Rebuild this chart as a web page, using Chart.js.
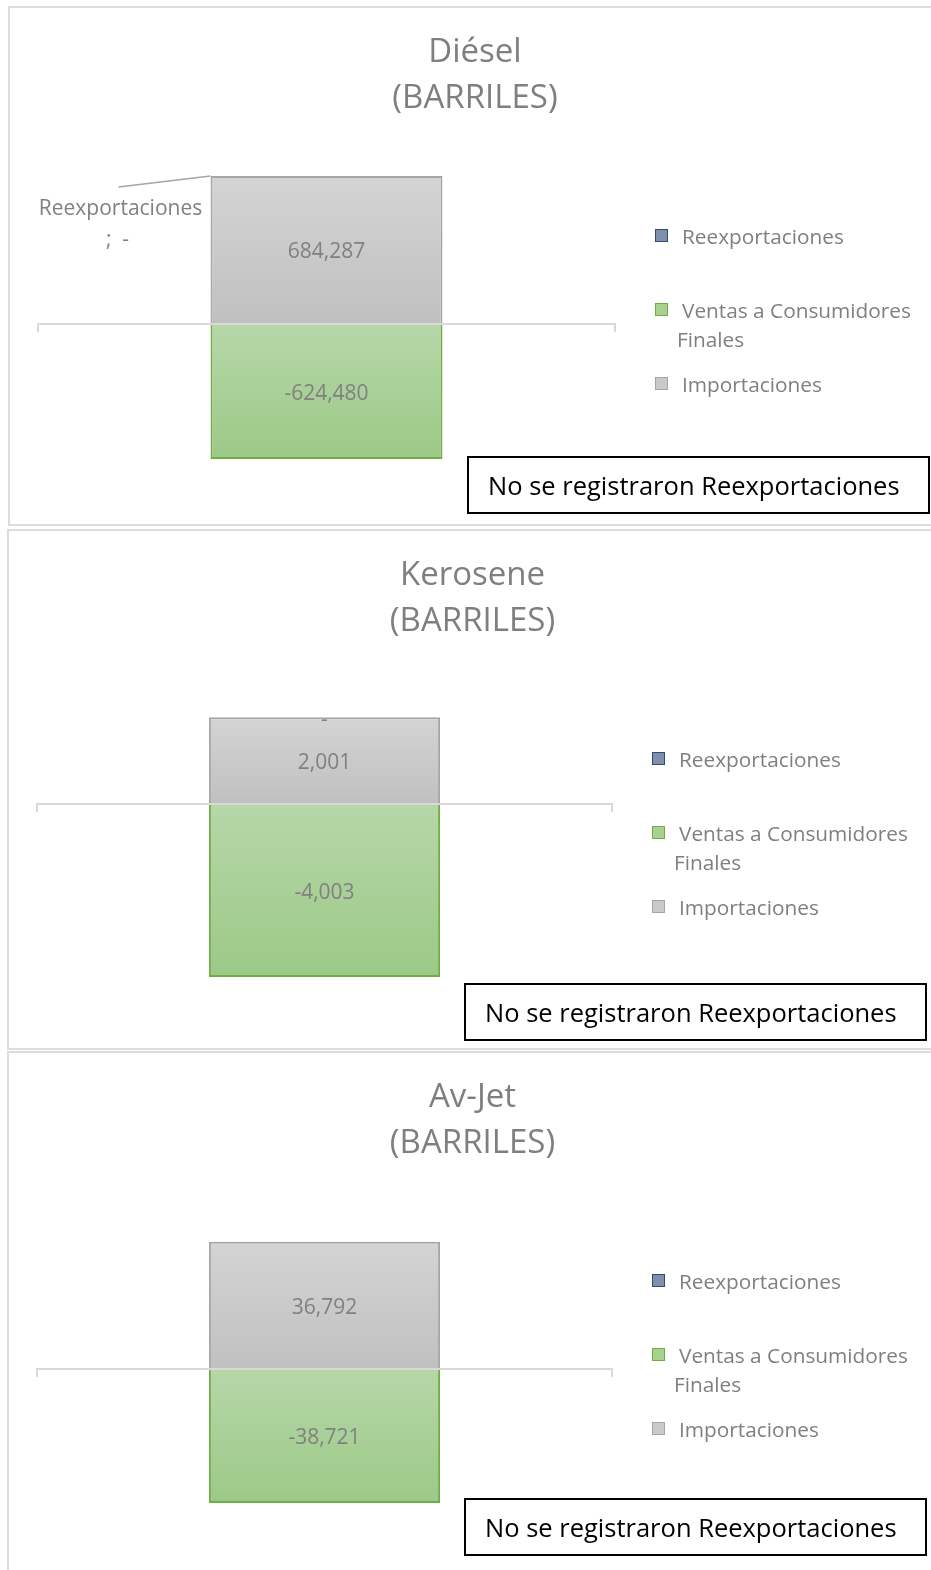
<!DOCTYPE html>
<html><head><meta charset="utf-8">
<script src="https://cdn.jsdelivr.net/npm/chart.js@4.4.0/dist/chart.umd.min.js"></script>
<style>
html,body{margin:0;padding:0;background:#fff;}
body{width:931px;height:1570px;overflow:hidden;position:relative;font-family:"Open Sans",sans-serif;}
.panel{position:absolute;border:2px solid #dcdcdc;box-sizing:border-box;background:#fff;}
.title{position:absolute;color:#7f7f7f;font-size:33px;line-height:46px;text-align:center;white-space:nowrap;}
.lg-sq{position:absolute;width:11px;height:11px;border:1.5px solid;}
.lg-tx{position:absolute;color:#7f7f7f;font-size:20.8px;line-height:29px;width:255px;text-indent:5px;}
.note{position:absolute;border:2px solid #000;box-sizing:border-box;height:58px;width:463px;color:#000;font-size:25.5px;line-height:54px;padding-left:19px;white-space:nowrap;}
canvas{position:absolute;}
</style></head><body>
<script>
// ---- data ----
const chartTitles = ["Diésel", "Kerosene", "Av-Jet"];
const unitLabel = "(BARRILES)";
const seriesNames = ["Importaciones", "Ventas a Consumidores Finales", "Reexportaciones"];
const importaciones = [684287, 2001, 36792];
const ventas = [-624480, -4003, -38721];
const reexportaciones = [0, 0, 0];
const axisMin = [-800000, -5000, -50000];
const axisMax = [800000, 3000, 50000];
const legendOrder = [2, 1, 0];
const noteText = "No se registraron Reexportaciones";

// ---- styles / layout ----
const SERIES_STYLE = [
  {top: '#d4d4d4', bottom: '#c0c0c0', border: '#a6a6a6', sq: '#c9c9c9', sqBorder: '#a5a5a5'},
  {top: '#b6d7a8', bottom: '#9cc987', border: '#70ad47', sq: '#a9d18e', sqBorder: '#70ad47'},
  {top: '#8496b0', bottom: '#8496b0', border: '#2f4a7a', sq: '#8090ab', sqBorder: '#2f4a7a'}
];
const LAYOUT = [
  {top: 6, left: 8, height: 520, dx: 3, titleCx: 475, plotL: 38, plotR: 615, noteTop: 450, zeroMode: 'callout'},
  {top: 529, left: 7, height: 521, dx: 0, titleCx: 472.5, plotL: 37, plotR: 612, noteTop: 454, zeroMode: 'dash'},
  {top: 1051, left: 7, height: 540, dx: 0, titleCx: 472.5, plotL: 37, plotR: 612, noteTop: 447, zeroMode: 'none'}
];
const seriesValues = [importaciones, ventas, reexportaciones];

const labelPlugin = {
  id: 'barLabels',
  afterDatasetsDraw(chart, args, opts) {
    const ctx = chart.ctx;
    ctx.save();
    ctx.fillStyle = '#808080';
    ctx.font = '21px "Open Sans"';
    ctx.textAlign = 'center';
    ctx.textBaseline = 'middle';
    chart.data.datasets.forEach((ds, di) => {
      const meta = chart.getDatasetMeta(di);
      meta.data.forEach((el, i) => {
        const v = ds.data[i];
        const p = el.getProps(['x', 'y', 'base', 'width'], true);
        if (v !== 0) {
          ctx.fillText(v.toLocaleString('en-US'), p.x, (p.y + p.base) / 2 + 2.5);
        } else if (opts.zeroMode === 'dash') {
          ctx.fillText('-', p.x, p.y + 3);
        } else if (opts.zeroMode === 'callout') {
          const lx = p.x - p.width / 2;
          ctx.strokeStyle = '#a6a6a6';
          ctx.lineWidth = 1.5;
          ctx.beginPath();
          ctx.moveTo(lx, p.y);
          ctx.lineTo(lx - 92, p.y + 11);
          ctx.stroke();
          ctx.fillText(ds.label, lx - 90, p.y + 33);
          ctx.fillText(';  -', lx - 93, p.y + 64);
        }
      });
    });
    ctx.restore();
  }
};

function el(tag, cls, styles, text) {
  const e = document.createElement(tag);
  if (cls) e.className = cls;
  Object.assign(e.style, styles || {});
  if (text != null) e.textContent = text;
  document.body.appendChild(e);
  return e;
}

LAYOUT.forEach((L, c) => {
  el('div', 'panel', {left: L.left + 'px', top: L.top + 'px', width: (940 - L.left) + 'px', height: L.height + 'px'});
  const cv = el('canvas', null, {left: '0px', top: L.top + 'px'});
  cv.width = 931; cv.height = 520;
  cv.style.width = '931px'; cv.style.height = '520px';

  const datasets = seriesNames.map((name, s) => {
    const st = SERIES_STYLE[s];
    return {
      label: name,
      data: [seriesValues[s][c]],
      borderColor: st.border,
      borderWidth: 2,
      backgroundColor: (ctx) => {
        const chart = ctx.chart;
        if (!chart.chartArea || ctx.type !== 'data') return st.top;
        const y = chart.scales.y;
        const y0 = y.getPixelForValue(0), y1 = y.getPixelForValue(ctx.raw);
        const g = chart.ctx.createLinearGradient(0, Math.min(y0, y1), 0, Math.max(y0, y1) + 0.01);
        g.addColorStop(0, st.top);
        g.addColorStop(1, st.bottom);
        return g;
      }
    };
  });

  new Chart(cv, {
    type: 'bar',
    data: {labels: [chartTitles[c]], datasets},
    options: {
      responsive: false,
      animation: false,
      devicePixelRatio: 1,
      categoryPercentage: 1,
      barPercentage: 0.402,
      layout: {padding: {left: L.plotL, right: 931 - L.plotR, top: 145, bottom: 29}},
      plugins: {legend: {display: false}, title: {display: false}, tooltip: {enabled: false}, barLabels: {zeroMode: L.zeroMode}},
      scales: {
        x: {
          stacked: true, offset: true,
          position: {y: 0},
          afterFit: (s) => { s.height = 0; },
          ticks: {display: false},
          grid: {offset: true, drawOnChartArea: false, drawTicks: true, tickLength: 7, color: '#d9d9d9', lineWidth: 2},
          border: {display: true, color: '#d9d9d9', width: 2, z: 1}
        },
        y: {stacked: true, display: false, min: axisMin[c], max: axisMax[c]}
      }
    },
    plugins: [labelPlugin]
  });

  const t = el('div', 'title', {left: '0px', width: (2 * L.titleCx) + 'px', top: (L.top + 44 - 23) + 'px'});
  t.appendChild(document.createTextNode(chartTitles[c]));
  t.appendChild(document.createElement('br'));
  t.appendChild(document.createTextNode(unitLabel));

  const centers = [230, 304, 378];
  legendOrder.forEach((s, k) => {
    const st = SERIES_STYLE[s];
    const cy = L.top + centers[k];
    el('div', 'lg-sq', {left: (652 + L.dx) + 'px', top: (cy - 7) + 'px', background: st.sq, borderColor: st.sqBorder});
    el('div', 'lg-tx', {left: (674 + L.dx) + 'px', top: (cy - 14.5) + 'px'}, seriesNames[s]);
  });

  el('div', 'note', {left: (464 + L.dx) + 'px', top: (L.top + L.noteTop) + 'px'}, noteText);
});
</script>
</body></html>
